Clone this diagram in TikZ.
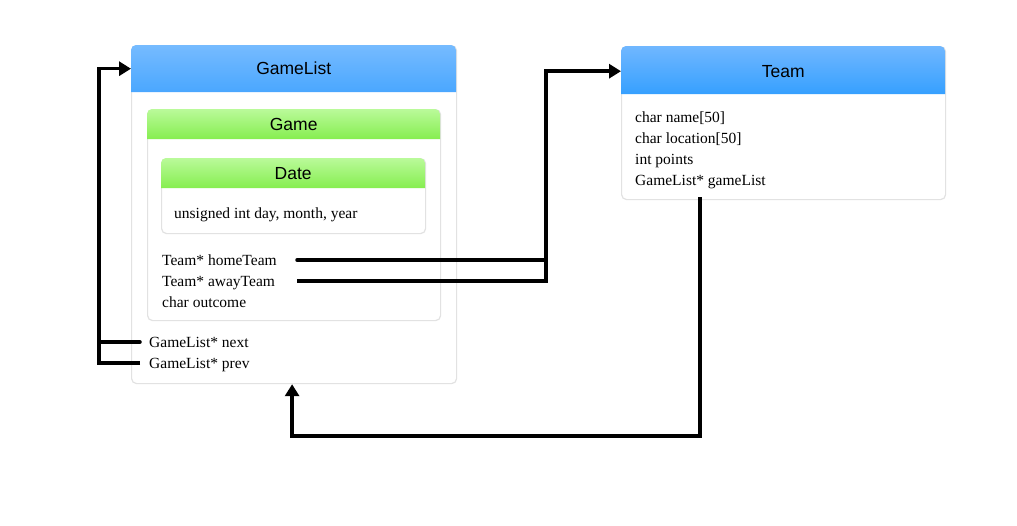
\documentclass[tikz,border=0pt]{standalone}
\usepackage{fontspec}
\setmainfont{Liberation Serif}
\setsansfont{Liberation Sans}
\usetikzlibrary{arrows.meta}
\definecolor{bordergray}{HTML}{E2E2E2}
\definecolor{bluetop}{HTML}{76BBFF}
\definecolor{bluebot}{HTML}{4AA7FF}
\definecolor{tbluetop}{HTML}{70B7FF}
\definecolor{tbluebot}{HTML}{36A0FF}
\definecolor{greentop}{HTML}{BAFA9A}
\definecolor{greenbot}{HTML}{86EE50}
\tikzset{
  box/.style={draw=bordergray, line width=1.2pt, rounded corners=5pt, fill=white, anchor=north west, inner sep=0pt},
  head/.style={anchor=north west, inner sep=0pt, font=\sffamily\fontsize{17.5}{20}\selectfont},
  field/.style={anchor=base west, inner sep=0pt, font=\fontsize{15.5}{18}\selectfont},
  conn/.style={line width=3.5pt, line cap=round},
  arr/.style={conn, line cap=butt, -{Triangle[length=12pt,width=14pt]}},
}
\newcommand{\hdr}[6]{% x1 y1 x2 y2 top bottom
  \shade[top color=#5, bottom color=#6, draw=none]
    (#1,#4) [rounded corners=5pt] -- (#1,#2) -- (#3,#2) [sharp corners] -- (#3,#4) -- cycle;
}
\begin{document}
\begin{tikzpicture}[x=1pt,y=-1pt]
\useasboundingbox (0,0) rectangle (1017,525);
% GameList
\node[box, minimum width=325pt, minimum height=338pt] (gl) at (131,45) {};
\hdr{131}{45}{456}{92}{bluetop}{bluebot}
\node[head, minimum width=325pt, minimum height=47pt] (glhead) at (131,45) {GameList};
% Game
\node[box, minimum width=293pt, minimum height=211pt] (game) at (147,109) {};
\hdr{147}{109}{440}{139}{greentop}{greenbot}
\node[head, minimum width=293pt, minimum height=31pt] (gamehead) at (147,109) {Game};
% Date
\node[box, minimum width=264pt, minimum height=75pt] (date) at (161,158) {};
\hdr{161}{158}{425}{188}{greentop}{greenbot}
\node[head, minimum width=264pt, minimum height=31pt] (datehead) at (161,158) {Date};
\node[field] (dfields) at (174,218) {unsigned int day, month, year};
\node[field] (home) at (162,265) {Team* homeTeam};
\node[field] (away) at (162,286) {Team* awayTeam};
\node[field] (outcome) at (162,307) {char outcome};
\node[field] (next) at (149,347) {GameList* next};
\node[field] (prev) at (149,368) {GameList* prev};
% Team
\node[box, minimum width=324pt, minimum height=153pt] (team) at (621,46) {};
\hdr{621}{46}{945}{94}{tbluetop}{tbluebot}
\node[head, minimum width=324pt, minimum height=50pt] (teamhead) at (621,46) {Team};
\node[field] (tname) at (635,122) {char name[50]};
\node[field] (tloc) at (635,143) {char location[50]};
\node[field] (tpts) at (635,164) {int points};
\node[field] (tgl) at (635,185) {GameList* gameList};
% coordinates
\coordinate (homeS) at (297,260);
\coordinate (awayS) at (297,281);
\coordinate (jx) at (546,281);
\coordinate (nextS) at (140,342);
\coordinate (prevS) at (140,363);
\coordinate (lx) at (99,363);
\coordinate (tglS) at (700,197);
% connectors
\draw[conn] (homeS) -- (homeS -| jx);
\draw[arr] (awayS) -- (jx) |- (teamhead.west);
\draw[conn] (nextS) -- (nextS -| lx);
\draw[arr] (prevS) -- (lx) |- (glhead.west);
\draw[arr] (tglS) -- (700,436) -| ([xshift=-2pt]gl.south);
\end{tikzpicture}
\end{document}
